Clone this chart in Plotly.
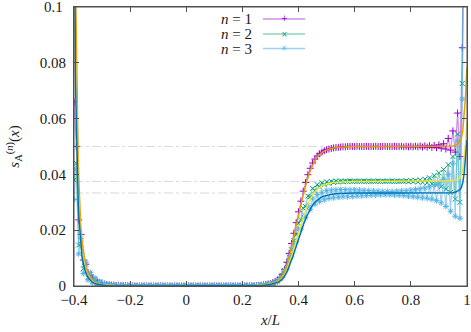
import plotly.graph_objects as go

# ---------------- data ----------------
N_SITES = 168          # samples at x = -0.4 + k/120
x_data = [round(-0.4 + k / 120, 6) for k in range(N_SITES)]

s1_data = [
    0.066, 0.050, 0.0237, 0.0185, 0.0093, 0.0078, 0.0048, 0.0040, 0.0026, 0.0022,
    0.0014, 0.0012, 0.0008, 0.0007, 0.0005, 0.0004, 0.0003, 0.0003, 0.0002,
    0.0002, 0.0001, 0.0001, 0.0001, 0.0001,
    0, 0, 0, 0, 0, 0, 0,
    0, 0, 0, 0, 0, 0, 0,
    0, 0, 0, 0, 0, 0, 0,
    0, 0, 0, 0, 0, 0, 0,
    0, 0, 0, 0, 0, 0, 0,
    0, 0, 0, 0, 0, 0, 0,
    0, 0, 0, 0, 0, 0, 0,
    0.00003, 0.00004, 0.00005, 0.00007, 0.0001, 0.00014, 0.0002, 0.00028, 0.0004, 0.00055, 0.00075,
    0.0009, 0.0012, 0.0015, 0.0020, 0.0029, 0.0042, 0.0060, 0.0085, 0.0117, 0.0152,
    0.0189, 0.0227, 0.0266, 0.0304, 0.0340, 0.0371, 0.0399, 0.0422, 0.0441, 0.0455,
    0.0466, 0.0474, 0.0480, 0.0485, 0.0489, 0.0491, 0.0493, 0.0495, 0.0496, 0.0497,
    0.0498, 0.0499, 0.0499,
    0.0500, 0.0501, 0.0500, 0.0500, 0.0501, 0.0500, 0.0500, 0.0500, 0.0501, 0.0500,
    0.0500, 0.0500, 0.0501, 0.0500, 0.0500, 0.0500, 0.0501, 0.0500, 0.0500, 0.0500,
    0.0501, 0.0500, 0.0500, 0.0501,
    0.0499, 0.0501, 0.0499, 0.0501, 0.0499, 0.0501, 0.0499, 0.0502, 0.0498,
    0.0502, 0.0498, 0.0503, 0.0497, 0.0504, 0.0496, 0.0506, 0.0494, 0.0510, 0.0491,
    0.0529, 0.0487, 0.0556, 0.0480, 0.0620, 0.0464, 0.0854, 0.16,
]

s2_data = [
    0.038, 0.044, 0.0147, 0.0150, 0.0062, 0.0078, 0.0030, 0.0042, 0.0016, 0.0024,
    0.0009, 0.0014, 0.0005, 0.0008, 0.0003, 0.0005, 0.0002, 0.0003, 0.0001,
    0.0002, 0.0001, 0.0001, 0.0001, 0.0,
    0, 0, 0, 0, 0, 0, 0,
    0, 0, 0, 0, 0, 0, 0,
    0, 0, 0, 0, 0, 0, 0,
    0, 0, 0, 0, 0, 0, 0,
    0, 0, 0, 0, 0, 0, 0,
    0, 0, 0, 0, 0, 0, 0,
    0, 0, 0, 0, 0, 0, 0,
    0.00002, 0.00003, 0.00004, 0.00006, 0.00008, 0.00011, 0.00015, 0.00021, 0.0003, 0.00042, 0.0006,
    0.0008, 0.0011, 0.0014, 0.0019, 0.0027, 0.0038, 0.0056, 0.0078, 0.0104, 0.0130,
    0.0162, 0.0184, 0.0225, 0.0238, 0.0279, 0.0285, 0.0322, 0.0320, 0.0350, 0.0342,
    0.0363, 0.0355, 0.0370, 0.0363, 0.0373, 0.0368, 0.0375, 0.0371, 0.0376, 0.0373,
    0.0376, 0.0374, 0.0376,
    0.0375, 0.0376, 0.0375, 0.0376, 0.0375, 0.0376, 0.0375, 0.0376, 0.0375, 0.0376,
    0.0375, 0.0376, 0.0375, 0.0376, 0.0375, 0.0376, 0.0375, 0.0376, 0.0375, 0.0376,
    0.0375, 0.0376, 0.0375, 0.0376,
    0.0375, 0.0377, 0.0374, 0.0378, 0.0374, 0.0379, 0.0373, 0.0380, 0.0372,
    0.0383, 0.0370, 0.0388, 0.0366, 0.0396, 0.0362, 0.0406, 0.0356, 0.0418, 0.0348,
    0.0435, 0.0336, 0.0464, 0.0312, 0.0545, 0.0300, 0.0726, 0.16,
]

s3_data = [
    0.031, 0.042, 0.0115, 0.0170, 0.0045, 0.0085, 0.0022, 0.0048, 0.0011, 0.0028,
    0.0006, 0.0016, 0.0003, 0.0009, 0.0002, 0.0005, 0.0001, 0.0003, 0.0001,
    0.0002, 0.0001, 0.0001, 0.0001, 0.0,
    0, 0, 0, 0, 0, 0, 0,
    0, 0, 0, 0, 0, 0, 0,
    0, 0, 0, 0, 0, 0, 0,
    0, 0, 0, 0, 0, 0, 0,
    0, 0, 0, 0, 0, 0, 0,
    0, 0, 0, 0, 0, 0, 0,
    0, 0, 0, 0, 0, 0, 0,
    0.00002, 0.00003, 0.00004, 0.00005, 0.00007, 0.0001, 0.00014, 0.0002, 0.00028, 0.00038, 0.00052,
    0.0008, 0.0008, 0.0015, 0.0015, 0.0027, 0.0031, 0.0054, 0.0063, 0.0099, 0.0107,
    0.0150, 0.0157, 0.0203, 0.0205, 0.0251, 0.0245, 0.0289, 0.0275, 0.0315, 0.0293,
    0.0328, 0.0303, 0.0336, 0.0309, 0.0342, 0.0314, 0.0344, 0.0316, 0.0345, 0.0318,
    0.0346, 0.0320, 0.0346,
    0.0320, 0.0345, 0.0321, 0.0345, 0.0322, 0.0344, 0.0323, 0.0343, 0.0324, 0.0342,
    0.0325, 0.0341, 0.0326, 0.0340, 0.0327, 0.0339, 0.0327, 0.0339, 0.0327, 0.0339,
    0.0326, 0.0340, 0.0325, 0.0341,
    0.0324, 0.0342, 0.0322, 0.0344, 0.0320, 0.0346, 0.0318, 0.0349, 0.0316,
    0.0352, 0.0314, 0.0356, 0.0311, 0.0362, 0.0306, 0.0370, 0.0298, 0.0382, 0.0285,
    0.0400, 0.0268, 0.0440, 0.0250, 0.0520, 0.0243, 0.0670, 0.16,
]

# analytic (continuum) curves
x_theory = [
    -0.3985, -0.397, -0.395, -0.393, -0.391, -0.389, -0.387, -0.385, -0.382, -0.379,
    -0.376, -0.372, -0.368, -0.364, -0.36, -0.355, -0.35, -0.34, -0.33, -0.32,
    -0.31, -0.30, -0.29, -0.28, -0.26, -0.24, -0.22, -0.2, -0.1, 0.0,
    0.1, 0.16, 0.2, 0.24, 0.27, 0.30, 0.32, 0.33, 0.34, 0.35,
    0.36, 0.37, 0.38, 0.39, 0.40, 0.41, 0.42, 0.43, 0.44, 0.45,
    0.46, 0.47, 0.48, 0.49, 0.50, 0.52, 0.54, 0.57, 0.60, 0.70,
    0.80, 0.88, 0.92, 0.94, 0.95, 0.96, 0.97, 0.975, 0.98, 0.985,
    0.99, 0.995, 1.0,
]
t1_theory = [
    0.22, 0.15, 0.115, 0.098, 0.078, 0.063, 0.053, 0.045, 0.036, 0.028,
    0.0215, 0.0165, 0.0130, 0.0102, 0.0082, 0.0062, 0.0047, 0.0028, 0.0017, 0.0011,
    0.0007, 0.00045, 0.0003, 0.0002, 0.0001, 0.00005, 0.00002, 0.00001, 0, 0,
    0, 0.00001, 0.00002, 0.0001, 0.0003, 0.0008, 0.0015, 0.0022, 0.0034, 0.0052,
    0.0080, 0.0118, 0.0160, 0.0205, 0.0252, 0.0298, 0.0341, 0.0378, 0.0410, 0.0435,
    0.0453, 0.0466, 0.0476, 0.0483, 0.0488, 0.0494, 0.0497, 0.0499, 0.0500, 0.0500,
    0.0500, 0.0500, 0.0500, 0.0501, 0.0502, 0.0505, 0.0511, 0.0518, 0.0530, 0.0555,
    0.0605, 0.0680, 0.0785,
]
t2_theory = [
    0.165, 0.1125, 0.0863, 0.0735, 0.0585, 0.0473, 0.0398, 0.0338, 0.027, 0.021,
    0.0161, 0.0124, 0.00975, 0.00765, 0.00615, 0.00465, 0.00353, 0.0021, 0.00128, 0.00083,
    0.00053, 0.00034, 0.00023, 0.00015, 0.000075, 0.00004, 0.000015, 0.0000075, 0, 0,
    0, 0.0000075, 0.000015, 0.000075, 0.00023, 0.0006, 0.00113, 0.00165, 0.00255, 0.0039,
    0.006, 0.00885, 0.012, 0.0154, 0.0189, 0.0224, 0.0256, 0.0284, 0.0308, 0.0326,
    0.034, 0.035, 0.0357, 0.0362, 0.0366, 0.0371, 0.0373, 0.0374, 0.0375, 0.0375,
    0.0375, 0.0375, 0.0375, 0.0376, 0.0377, 0.0379, 0.0383, 0.0389, 0.0398, 0.0416,
    0.0454, 0.051, 0.0589,
]
t3_theory = [
    0.1467, 0.1, 0.0767, 0.0653, 0.052, 0.042, 0.0353, 0.03, 0.024, 0.0187,
    0.0143, 0.011, 0.00867, 0.0068, 0.00547, 0.00413, 0.00313, 0.00187, 0.00113, 0.00073,
    0.00047, 0.0003, 0.0002, 0.00013, 0.000067, 0.000033, 0.000013, 0.0000067, 0, 0,
    0, 0.0000067, 0.000013, 0.000067, 0.0002, 0.00053, 0.001, 0.00147, 0.00227, 0.00347,
    0.00533, 0.00787, 0.01067, 0.01367, 0.0168, 0.01987, 0.02273, 0.0252, 0.02733, 0.029,
    0.0302, 0.03107, 0.03173, 0.0322, 0.03253, 0.03293, 0.03313, 0.03327, 0.03333, 0.03333,
    0.03333, 0.03333, 0.03333, 0.0334, 0.03347, 0.03367, 0.03407, 0.03453, 0.03533, 0.037,
    0.04033, 0.04533, 0.05233,
]

plateau_levels = [0.05, 0.0375, 0.033333]
series_labels = ["1", "2", "3"]
x_ticks = [-0.4, -0.2, 0, 0.2, 0.4, 0.6, 0.8, 1]
x_ticktext = ["−0.4", "−0.2", "0", "0.2", "0.4", "0.6", "0.8", "1"]
y_ticks = [0, 0.02, 0.04, 0.06, 0.08, 0.1]
y_ticktext = ["0", "0.02", "0.04", "0.06", "0.08", "0.1"]

assert len(s1_data) == N_SITES and len(s2_data) == N_SITES and len(s3_data) == N_SITES
assert len(t1_theory) == len(x_theory) == len(t2_theory) == len(t3_theory)

# ---------------- figure ----------------
FONT = "Liberation Serif"
TXT = "#1a1a1a"
FRAME = "#505050"
fig = go.Figure()

data_styles = [
    (s1_data, "#9400d3", "rgba(148,0,211,0.45)", "cross-thin", "+"),
    (s2_data, "#009e73", "rgba(0,158,115,0.45)", "x-thin", "×"),
    (s3_data, "#56b4e9", "rgba(86,180,233,0.6)", "asterisk", "✳"),
]
for vals, mcol, lcol, sym, _g in data_styles:
    fig.add_trace(go.Scatter(
        x=x_data, y=vals, mode="lines+markers",
        line=dict(color=lcol, width=1.2),
        marker=dict(symbol=sym, size=5, color=mcol, line=dict(color=mcol, width=1)),
        showlegend=False,
    ))

for vals, col in zip([t1_theory, t2_theory, t3_theory], ["#e69f00", "#f0e442", "#0072b2"]):
    fig.add_trace(go.Scatter(
        x=x_theory, y=vals, mode="lines", line=dict(color=col, width=1.5),
        showlegend=False, hoverinfo="skip",
    ))

for lev in plateau_levels:
    fig.add_shape(type="line", xref="x", yref="y", x0=-0.4, x1=1.0, y0=lev, y1=lev,
                  line=dict(color="#cfcfcf", width=0.8, dash="dashdot"), layer="below")

# frame around the plotting area
fig.add_shape(type="rect", xref="paper", yref="paper", x0=0, x1=1, y0=0, y1=1,
              line=dict(color=FRAME, width=1), fillcolor="rgba(0,0,0,0)", layer="above")

# top y tick label (plotly hides it because it touches the page edge)
fig.add_annotation(xref="paper", yref="paper", x=-0.0254, y=1.0, xanchor="right", yanchor="middle",
                   showarrow=False, borderpad=0, text=y_ticktext[-1],
                   font=dict(family=FONT, size=15, color=TXT))

# legend in gnuplot style: label, then sample line with a point
leg_y = [0.957, 0.903, 0.851]
for (vals, mcol, lcol, sym, glyph), lab, yy in zip(data_styles, series_labels, leg_y):
    fig.add_annotation(
        xref="paper", yref="paper", x=0.458, y=yy,
        xanchor="right", yanchor="middle", showarrow=False,
        text="<i>n</i> = " + lab, font=dict(family=FONT, size=15, color=TXT),
    )
    fig.add_shape(type="line", xref="paper", yref="paper", x0=0.481, x1=0.588, y0=yy, y1=yy,
                  line=dict(color=lcol, width=1.5))
    fig.add_annotation(
        xref="paper", yref="paper", x=0.5345, y=yy,
        xanchor="center", yanchor="middle", showarrow=False,
        text=glyph, font=dict(family="DejaVu Sans", size=8, color=mcol),
    )

axis_common = dict(
    showline=True, linecolor=FRAME, linewidth=1, mirror="ticks",
    ticks="inside", ticklen=5, tickcolor=FRAME, tickwidth=1,
    showgrid=False, zeroline=False, automargin=False,
    tickfont=dict(family=FONT, size=15, color=TXT),
)
fig.update_xaxes(range=[-0.4, 1.0002], tickmode="array", tickvals=x_ticks, ticktext=x_ticktext,
                 title=dict(text="<i>x</i>/<i>L</i>", font=dict(family=FONT, size=15, color=TXT), standoff=7),
                 **axis_common)
fig.update_yaxes(range=[0, 0.10002], tickmode="array", tickvals=y_ticks, ticktext=y_ticktext,
                 ticklabelstandoff=4,
                 title=dict(text="<i>s</i><sub>A</sub><sup>(<i>n</i>)</sup>(<i>x</i>)",
                            font=dict(family=FONT, size=15, color=TXT), standoff=16),
                 **axis_common)

fig.update_layout(
    width=471, height=332,
    margin=dict(l=74, r=4, t=7, b=46),
    paper_bgcolor="white", plot_bgcolor="white",
    showlegend=False,
)

fig.write_html(
    "out.html",
    config={"displayModeBar": False, "staticPlot": True},
    post_script="document.body.style.margin='0';document.body.style.overflow='hidden';",
)
